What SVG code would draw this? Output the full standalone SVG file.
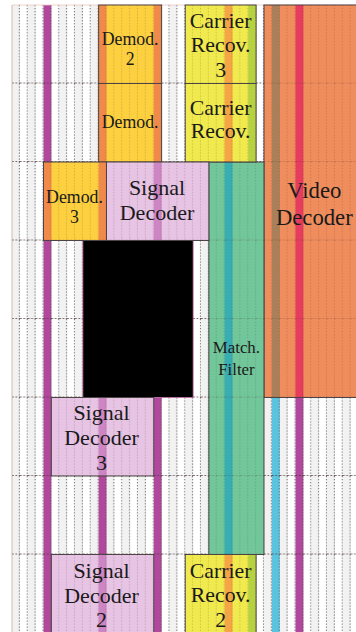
<svg xmlns="http://www.w3.org/2000/svg" width="356" height="632" viewBox="0 0 356 632">
  <style>
    .stripe-p { fill: #b2489d; }
    .stripe-c { fill: #5ac4e0; }
    .demod-edge { fill: #f08a4a; }
    .demod-core { fill: #fdd040; }
    .carrier { fill: #f0ea4e; }
    .carrier-o { fill: #f6a545; }
    .carrier-g { fill: #b6d240; }
    .sig { fill: #e7c3e4; }
    .sig-s { fill: #cd85c3; }
    .video { fill: #f08d5d; }
    .video-b { fill: #a9805a; }
    .video-r { fill: #e63d5e; }
    .match { fill: #72c79a; }
    .match-t { fill: #38adb2; }
    .tint { fill: url(#gridLight); }
    .frame { fill: none; stroke: #4d4545; stroke-width: 1; }
    .lbl { fill: #1a1a1a; text-anchor: middle; }
  </style>
  <defs>
    <!-- alternating column shading -->
    <pattern id="cols" patternUnits="userSpaceOnUse" x="12" y="5" width="15.75" height="10">
      <rect x="0" y="0" width="7.875" height="10" fill="#f2f2f2"/>
    </pattern>
    <!-- dotted slot / row grid, strong version for empty slots -->
    <pattern id="gridDark" patternUnits="userSpaceOnUse" x="12" y="5" width="7.875" height="78.5">
      <line x1="7.3" y1="0" x2="7.3" y2="78.5" stroke="#555" stroke-width="0.9" stroke-dasharray="1.3 1.7"/>
      <line x1="0" y1="78.2" x2="7.875" y2="78.2" stroke="#4a3535" stroke-width="0.9" stroke-dasharray="1.8 1.6"/>
    </pattern>
    <!-- faint version drawn over the task blocks -->
    <pattern id="gridLight" patternUnits="userSpaceOnUse" x="12" y="5" width="7.875" height="78.5">
      <line x1="7.3" y1="0" x2="7.3" y2="78.5" stroke="#3c1e1e" stroke-opacity="0.25" stroke-width="0.9" stroke-dasharray="1.3 1.7"/>
      <line x1="0" y1="78.2" x2="7.875" y2="78.2" stroke="#3c1e1e" stroke-opacity="0.3" stroke-width="0.9" stroke-dasharray="1.8 1.6"/>
    </pattern>
  </defs>

  <!-- background slots -->
  <g id="background">
    <rect x="12" y="5" width="344" height="628" fill="#ffffff"/>
    <rect x="12" y="5" width="344" height="628" fill="url(#cols)"/>
    <rect x="43.5" y="5" width="7.875" height="628" class="stripe-p"/>
    <rect x="98.625" y="476" width="7.875" height="78.5" class="stripe-p"/>
    <rect x="153.75" y="397.5" width="7.875" height="235.5" class="stripe-p"/>
    <rect x="271.875" y="397.5" width="7.875" height="235.5" class="stripe-c"/>
    <rect x="295.5" y="397.5" width="7.875" height="235.5" class="stripe-p"/>
    <rect x="12" y="5" width="344" height="628" fill="url(#gridDark)"/>
    <line x1="12" y1="5" x2="12" y2="632" stroke="#c9a9a3" stroke-width="0.8"/>
    <line x1="12" y1="5" x2="356" y2="5" stroke="#e8c8c0" stroke-width="0.8"/>
  </g>

  <g id="connectors"></g>

  <g font-family="'Liberation Serif', 'DejaVu Serif', serif">
  <g id="video-decoder">
    <rect x="264" y="5" width="94.5" height="392.5" class="video"/>
    <rect x="271.875" y="5" width="7.875" height="392.5" class="video-b"/>
    <rect x="295.5" y="5" width="7.875" height="392.5" class="video-r"/>
    <rect x="264" y="5" width="94.5" height="392.5" class="tint"/>
    <rect x="264" y="5" width="94.5" height="392.5" class="frame"/>
    <text class="lbl" font-size="22.7" x="314.3" y="198">Video</text>
    <text class="lbl" font-size="22.7" x="314.3" y="225">Decoder</text>
  </g>

  <g id="match-filter">
    <rect x="208.875" y="162" width="55.125" height="392.5" class="match"/>
    <rect x="224.625" y="162" width="7.875" height="392.5" class="match-t"/>
    <rect x="208.875" y="162" width="55.125" height="392.5" class="tint"/>
    <rect x="208.875" y="162" width="55.125" height="392.5" class="frame"/>
    <text class="lbl" font-size="16.8" x="236.4" y="353">Match.</text>
    <text class="lbl" font-size="16.8" x="236.4" y="375">Filter</text>
  </g>

  <g id="blocked">
    <rect x="82.875" y="240.5" width="110.25" height="157" fill="#000000" stroke="#d070b0" stroke-width="0.8"/>
  </g>

  <g id="demod-2">
    <rect x="98.625" y="5" width="63" height="78.5" class="demod-edge"/>
    <rect x="106.5" y="5" width="47.25" height="78.5" class="demod-core"/>
    <rect x="98.625" y="5" width="63" height="78.5" class="tint"/>
    <rect x="98.625" y="5" width="63" height="78.5" class="frame"/>
    <text class="lbl" font-size="17.8" x="130.1" y="45">Demod.</text>
    <text class="lbl" font-size="17.8" x="130.1" y="65">2</text>
  </g>

  <g id="demod">
    <rect x="98.625" y="83.5" width="63" height="78.5" class="demod-edge"/>
    <rect x="106.5" y="83.5" width="47.25" height="78.5" class="demod-core"/>
    <rect x="98.625" y="83.5" width="63" height="78.5" class="tint"/>
    <rect x="98.625" y="83.5" width="63" height="78.5" class="frame"/>
    <text class="lbl" font-size="17.8" x="130.1" y="127.7">Demod.</text>
  </g>

  <g id="demod-3">
    <rect x="43.5" y="162" width="63" height="78.5" class="demod-edge"/>
    <rect x="51.375" y="162" width="47.25" height="78.5" class="demod-core"/>
    <rect x="43.5" y="162" width="63" height="78.5" class="tint"/>
    <rect x="43.5" y="162" width="63" height="78.5" class="frame"/>
    <text class="lbl" font-size="17.8" x="74.5" y="203">Demod.</text>
    <text class="lbl" font-size="17.8" x="74.5" y="223">3</text>
  </g>

  <g id="carrier-recov-3">
    <rect x="185.25" y="5" width="70.875" height="78.5" class="carrier"/>
    <rect x="224.625" y="5" width="7.875" height="78.5" class="carrier-o"/>
    <rect x="248.25" y="5" width="7.875" height="78.5" class="carrier-g"/>
    <rect x="185.25" y="5" width="70.875" height="78.5" class="tint"/>
    <rect x="185.25" y="5" width="70.875" height="78.5" class="frame"/>
    <text class="lbl" font-size="21.8" x="220.7" y="28">Carrier</text>
    <text class="lbl" font-size="21.8" x="220.7" y="52">Recov.</text>
    <text class="lbl" font-size="21.8" x="220.7" y="77">3</text>
  </g>

  <g id="carrier-recov">
    <rect x="185.25" y="83.5" width="70.875" height="78.5" class="carrier"/>
    <rect x="224.625" y="83.5" width="7.875" height="78.5" class="carrier-o"/>
    <rect x="248.25" y="83.5" width="7.875" height="78.5" class="carrier-g"/>
    <rect x="185.25" y="83.5" width="70.875" height="78.5" class="tint"/>
    <rect x="185.25" y="83.5" width="70.875" height="78.5" class="frame"/>
    <text class="lbl" font-size="21.8" x="220.7" y="115">Carrier</text>
    <text class="lbl" font-size="21.8" x="220.7" y="138">Recov.</text>
  </g>

  <g id="carrier-recov-2">
    <rect x="185.25" y="554.5" width="70.875" height="78.5" class="carrier"/>
    <rect x="224.625" y="554.5" width="7.875" height="78.5" class="carrier-o"/>
    <rect x="248.25" y="554.5" width="7.875" height="78.5" class="carrier-g"/>
    <rect x="185.25" y="554.5" width="70.875" height="78.5" class="tint"/>
    <rect x="185.25" y="554.5" width="70.875" height="78.5" class="frame"/>
    <text class="lbl" font-size="21.8" x="220.7" y="578">Carrier</text>
    <text class="lbl" font-size="21.8" x="220.7" y="602">Recov.</text>
    <text class="lbl" font-size="21.8" x="220.7" y="627">2</text>
  </g>

  <g id="signal-decoder">
    <rect x="106.5" y="162" width="102.375" height="78.5" class="sig"/>
    <rect x="153.75" y="162" width="7.875" height="78.5" class="sig-s"/>
    <rect x="106.5" y="162" width="102.375" height="78.5" class="tint"/>
    <rect x="106.5" y="162" width="102.375" height="78.5" class="frame"/>
    <text class="lbl" font-size="22" x="157" y="195">Signal</text>
    <text class="lbl" font-size="22" x="157" y="220">Decoder</text>
  </g>

  <g id="signal-decoder-3">
    <rect x="51.375" y="397.5" width="102.375" height="78.5" class="sig"/>
    <rect x="98.625" y="397.5" width="7.875" height="78.5" class="sig-s"/>
    <rect x="51.375" y="397.5" width="102.375" height="78.5" class="tint"/>
    <rect x="51.375" y="397.5" width="102.375" height="78.5" class="frame"/>
    <text class="lbl" font-size="22" x="101.5" y="420">Signal</text>
    <text class="lbl" font-size="22" x="101.5" y="445">Decoder</text>
    <text class="lbl" font-size="22" x="101.5" y="470">3</text>
  </g>

  <g id="signal-decoder-2">
    <rect x="51.375" y="554.5" width="102.375" height="78.5" class="sig"/>
    <rect x="98.625" y="554.5" width="7.875" height="78.5" class="sig-s"/>
    <rect x="51.375" y="554.5" width="102.375" height="78.5" class="tint"/>
    <rect x="51.375" y="554.5" width="102.375" height="78.5" class="frame"/>
    <text class="lbl" font-size="22" x="101.5" y="578">Signal</text>
    <text class="lbl" font-size="22" x="101.5" y="603">Decoder</text>
    <text class="lbl" font-size="22" x="101.5" y="627">2</text>
  </g>
  </g>
</svg>
